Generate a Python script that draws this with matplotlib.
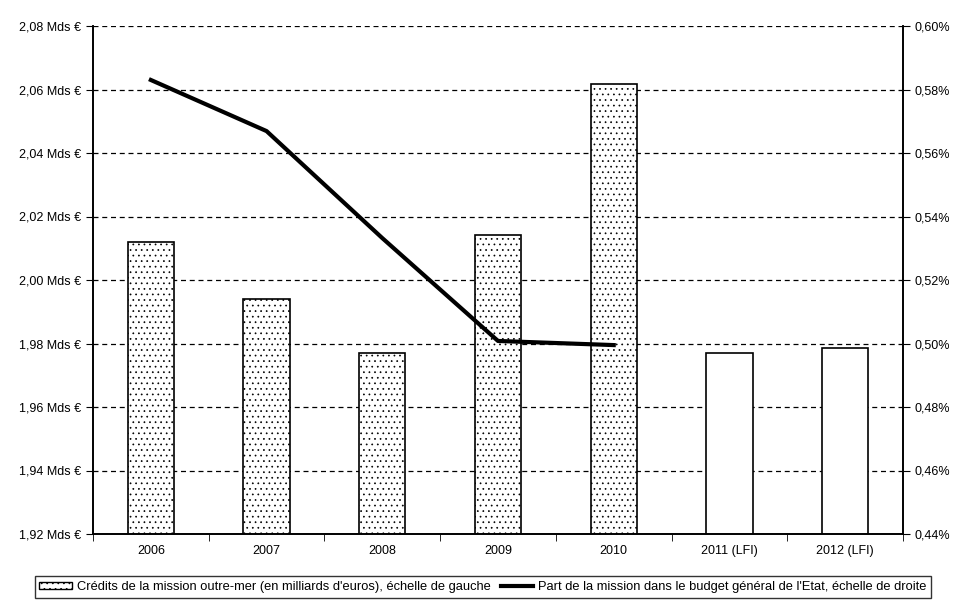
import matplotlib.pyplot as plt
import matplotlib
from matplotlib.patches import Patch
import numpy as np

matplotlib.rcParams["hatch.linewidth"] = 0.5
plt.rcParams["font.family"] = ["Liberation Sans", "DejaVu Sans"]

annees = ["2006", "2007", "2008", "2009", "2010", "2011 (LFI)", "2012 (LFI)"]
credits = [2.012, 1.994, 1.977, 2.0142, 2.0617, 1.977, 1.9786]
part = [0.583, 0.5669, 0.5332, 0.5008, 0.4995]
hachure = [True, True, True, True, True, False, False]

fig = plt.figure(figsize=(9.68, 6.05), dpi=100)
ax = fig.add_axes([93/968, 1-534/605, 810/968, 508/605])
ax2 = ax.twinx()

x = np.arange(len(annees))
for i in range(len(annees)):
    ax.bar(x[i], credits[i] - 1.92, bottom=1.92, width=0.4, facecolor="white",
           edgecolor="black", linewidth=1.2, hatch="..." if hachure[i] else None,
           zorder=3)

ax.set_xlim(-0.5, len(annees) - 0.5)
ax.set_ylim(1.92, 2.08)
yt = np.arange(1.92, 2.0801, 0.02)
ax.set_yticks(yt)
ax.set_yticklabels([("%.2f Mds €" % v).replace(".", ",") for v in yt])
ax.yaxis.grid(True, linestyle=(0, (4, 3)), color="black", linewidth=0.9)
ax.set_axisbelow(True)
ax.set_xticks(x)
ax.set_xticklabels(annees)
ax.set_xticks(np.arange(-0.5, len(annees)), minor=True)
ax.tick_params(axis="x", which="major", length=0, pad=8)
ax.tick_params(axis="x", which="minor", length=5, direction="out")
ax.tick_params(axis="y", length=5, labelsize=9)
ax.tick_params(axis="x", labelsize=9)

ligne, = ax2.plot(x[:len(part)], part, color="black", linewidth=3, zorder=4)
ax2.set_ylim(0.44, 0.60)
yt2 = np.arange(0.44, 0.6001, 0.02)
ax2.set_yticks(yt2)
ax2.set_yticklabels([("%.2f%%" % v).replace(".", ",") for v in yt2])
ax2.tick_params(axis="y", length=5, labelsize=9)

for a in (ax, ax2):
    a.spines["top"].set_visible(False)
    for s in ("left", "right", "bottom"):
        a.spines[s].set_linewidth(1.2)

patch = Patch(facecolor="white", edgecolor="black", hatch="...", linewidth=1.0)
leg = fig.legend([patch, ligne],
                 ["Crédits de la mission outre-mer (en milliards d'euros), échelle de gauche",
                  "Part de la mission dans le budget général de l'Etat, échelle de droite"],
                 loc="center", bbox_to_anchor=(483/968, 1-587/605),
                 ncol=2, frameon=True, fancybox=False, edgecolor="black", fontsize=9.3,
                 handlelength=2.5, handleheight=0.5, handletextpad=0.4, columnspacing=0.8,
                 borderpad=0.35)
leg.get_frame().set_linewidth(1.0)

plt.savefig("out.png", dpi=100)
